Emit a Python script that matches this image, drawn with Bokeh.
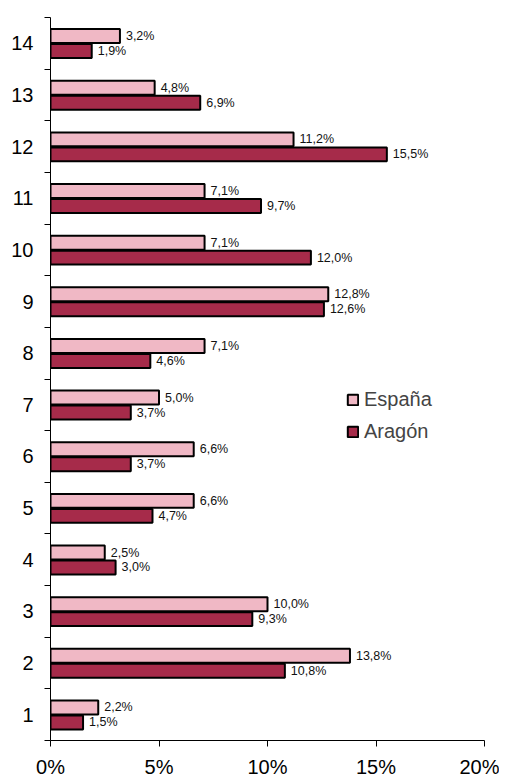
from bokeh.plotting import figure
from bokeh.models import (ColumnDataSource, Range1d, FixedTicker, PrintfTickFormatter,
                          Legend, LegendItem, LabelSet)
from bokeh.core.properties import value
from bokeh.embed import file_html
from bokeh.resources import INLINE

categories = [1, 2, 3, 4, 5, 6, 7, 8, 9, 10, 11, 12, 13, 14]
espana = [2.2, 13.8, 10.0, 2.5, 6.6, 6.6, 5.0, 7.1, 12.8, 7.1, 7.1, 11.2, 4.8, 3.2]
aragon = [1.5, 10.8, 9.3, 3.0, 4.7, 3.7, 3.7, 4.6, 12.6, 12.0, 9.7, 15.5, 6.9, 1.9]
x_ticks = [0, 5, 10, 15, 20]
series_names = ["España", "Aragón"]

FONT = "Liberation Sans"
PINK = "#F0B8C5"
DARK = "#A62B4A"

def fmt(v):
    return ("%.1f%%" % v).replace(".", ",")

src_e = ColumnDataSource(dict(y=[c + 0.14 for c in categories], x=espana,
                              lab=[fmt(v) for v in espana]))
src_a = ColumnDataSource(dict(y=[c - 0.15 for c in categories], x=aragon,
                              lab=[fmt(v) for v in aragon]))

p = figure(frame_width=434, frame_height=723, output_backend="svg", toolbar_location=None,
           x_range=Range1d(0, 20), y_range=Range1d(0.5, 14.5),
           min_border_left=50, min_border_right=15, min_border_top=17, min_border_bottom=30)
p.outline_line_color = None
p.xgrid.grid_line_color = None
p.ygrid.grid_line_color = None

r_e = p.hbar(y="y", right="x", left=0, height=0.27, source=src_e,
             fill_color=PINK, line_color="black", line_width=2)
r_a = p.hbar(y="y", right="x", left=0, height=0.27, source=src_a,
             fill_color=DARK, line_color="black", line_width=2)

for src in (src_e, src_a):
    p.add_layout(LabelSet(x="x", y="y", text="lab", source=src, x_offset=6,
                          text_baseline="middle", text_align="left",
                          text_font=value(FONT), text_font_size="12.5px",
                          text_color="#111111"))

# x axis
p.xaxis.ticker = FixedTicker(ticks=x_ticks)
p.xaxis.formatter = PrintfTickFormatter(format="%d%%")
p.xaxis.major_tick_out = 6
p.xaxis.major_tick_in = 0
p.xaxis.minor_tick_out = 0
p.xaxis.minor_tick_in = 0
p.xaxis.major_label_standoff = 9
p.xaxis.major_label_text_font = FONT
p.xaxis.major_label_text_font_size = "20px"
p.xaxis.major_label_text_color = "black"
p.xaxis.axis_line_color = "black"
p.xaxis.major_tick_line_color = "black"

# y axis
p.yaxis.ticker = FixedTicker(ticks=categories,
                             minor_ticks=[c - 0.5 for c in categories] + [14.5])
p.yaxis.major_tick_out = 0
p.yaxis.major_tick_in = 0
p.yaxis.minor_tick_out = 6
p.yaxis.minor_tick_in = 0
p.yaxis.major_label_standoff = 11
p.yaxis.major_label_text_font = FONT
p.yaxis.major_label_text_font_size = "20px"
p.yaxis.major_label_text_color = "black"
p.yaxis.axis_line_color = "black"
p.yaxis.minor_tick_line_color = "black"

legend = Legend(items=[LegendItem(label=series_names[0], renderers=[r_e]),
                       LegendItem(label=series_names[1], renderers=[r_a])],
                location=(296, 297), orientation="vertical",
                glyph_width=13, glyph_height=13, label_text_font=FONT,
                label_text_font_size="20px", label_standoff=5, spacing=9,
                padding=0, margin=0, border_line_alpha=0, background_fill_alpha=0,
                label_height=23)
p.add_layout(legend)

open("out.html", "w").write(file_html(p, INLINE))
